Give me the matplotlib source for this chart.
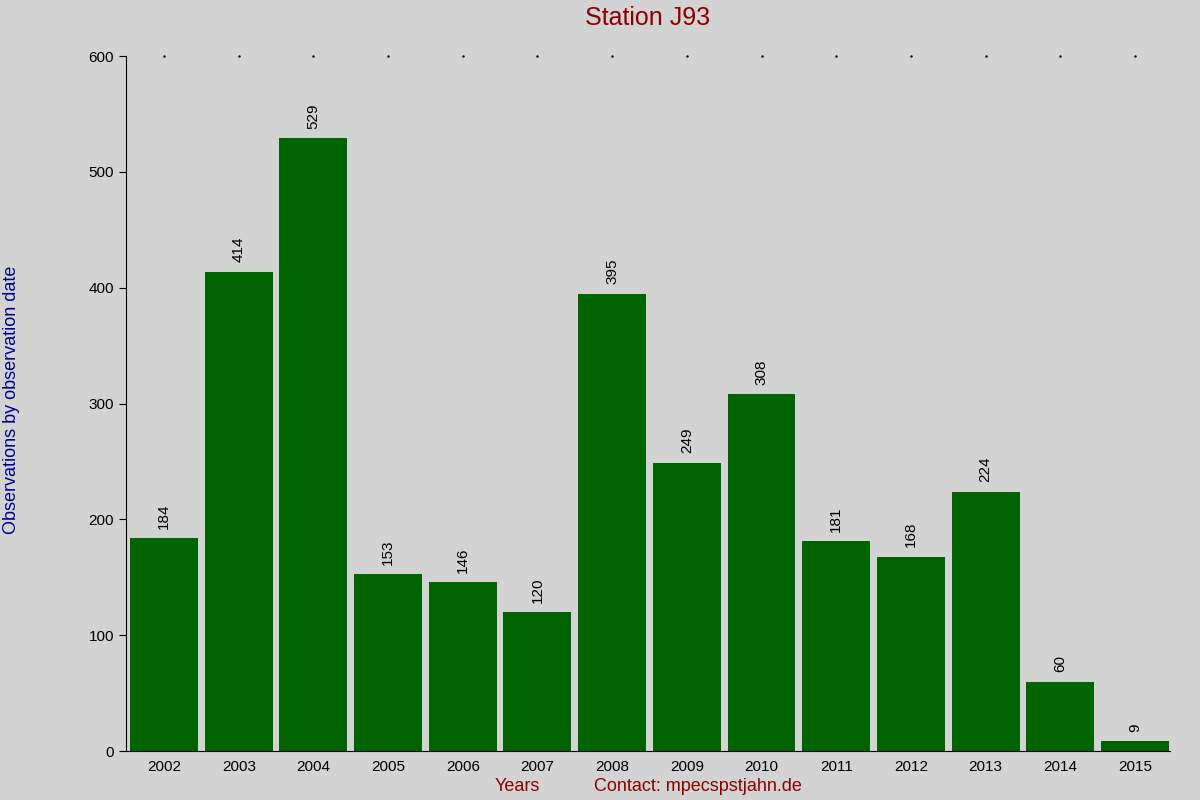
import matplotlib
matplotlib.use("Agg")
import matplotlib.pyplot as plt

# data
years = ["2002", "2003", "2004", "2005", "2006", "2007", "2008",
         "2009", "2010", "2011", "2012", "2013", "2014", "2015"]
counts = [184, 414, 529, 153, 146, 120, 395, 249, 308, 181, 168, 224, 60, 9]

plt.rcParams['font.family'] = ['Liberation Sans', 'DejaVu Sans']
bg = '#d3d3d3'

fig = plt.figure(figsize=(12, 8), dpi=100, facecolor=bg)
ax = fig.add_axes([0.105, 0.061, 0.87, 0.869], facecolor=bg)

pos = list(range(len(years)))
ax.bar(pos, counts, width=0.91, color='#006400')
for p, c in zip(pos, counts):
    ax.text(p, c + 8, str(c), rotation=90, ha='center', va='bottom', fontsize=11)

ax.set_xlim(-0.51, 13.47)
ax.set_ylim(0, 600)
ax.set_yticks([0, 100, 200, 300, 400, 500, 600])
ax.set_xticks(pos)
ax.set_xticklabels(years)
ax.tick_params(axis='x', length=0, labelsize=11, pad=6)
ax.tick_params(axis='y', direction='out', length=5, labelsize=11)
ax.spines['top'].set_visible(False)
ax.spines['right'].set_visible(False)

# little dots along the top
for p in pos:
    ax.plot(p, 600, marker='.', color='black', markersize=1.5, clip_on=False)

fig.text(0.54, 0.977, "Station J93", color='#8b0000', fontsize=18, ha='center', va='center')
fig.text(0.01, 0.5, "Observations by observation date", color='#00008b', fontsize=13,
         rotation=90, ha='center', va='center')
fig.text(0.431, 0.017, "Years", color='#8b0000', fontsize=13, ha='center', va='center')
fig.text(0.582, 0.017, "Contact: mpecspstjahn.de", color='#8b0000', fontsize=13,
         ha='center', va='center')

fig.savefig("out.png", dpi=100, facecolor=bg)
